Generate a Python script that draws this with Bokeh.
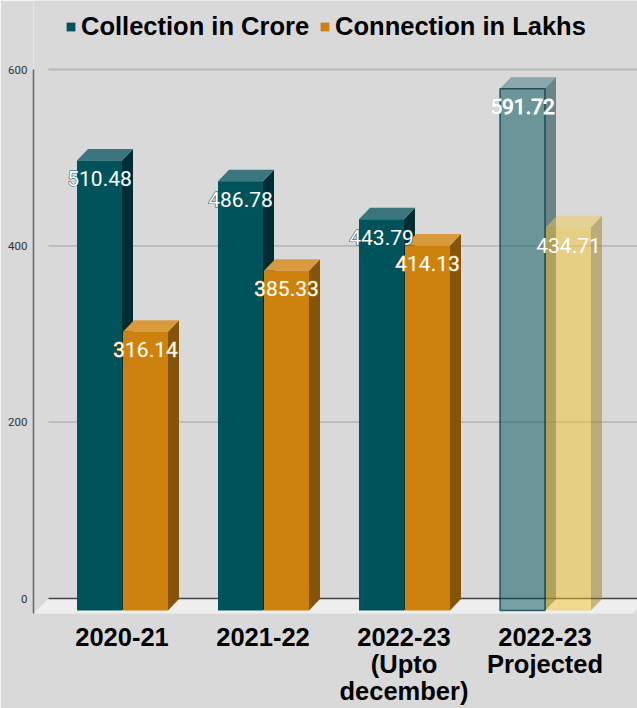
from bokeh.plotting import figure
from bokeh.models import ColumnDataSource, Legend, LegendItem, FixedTicker, Range1d
from bokeh.core.properties import value
from bokeh.embed import file_html
from bokeh.resources import INLINE

categories = ["2020-21", "2021-22", "2022-23\n(Upto\ndecember)", "2022-23\nProjected"]
collection = [510.48, 486.78, 443.79, 591.72]
connection = [316.14, 385.33, 414.13, 434.71]
series_names = ["Collection in Crore", "Connection in Lakhs"]
y_ticks = [0, 200, 400, 600]
face_alpha = [1, 1, 1, 0.5]
BG = "#d9d9d9"
teal = dict(front="#00525b", top="#3b757d", side="#002d35")
orange = dict(front="#cc820c", top="#d99a3c", side="#845408")
yellow = dict(front="#f3c32b", top="#efc955", side="#9d7d1b")

PX_Y = 529 / 600
PX_X = 141.0
bar_w = 45 / PX_X
depth_x = 11 / PX_X
depth_y = 11.5 / PX_Y
base = -12 / PX_Y

p = figure(width=637, height=708, output_backend="svg", toolbar_location=None,
           x_range=Range1d((33 - 122.5) / PX_X, (637 - 122.5) / PX_X),
           y_range=Range1d(-15 / PX_Y, 598 / PX_Y),
           background_fill_color=BG, border_fill_color=BG, outline_line_color=None,
           frame_width=604, frame_height=613,
           min_border_left=33, min_border_right=0, min_border_top=0, min_border_bottom=95)
p.grid.visible = False

xs = p.x_range.start
wall_x = xs + 15 / PX_X
right_x = p.x_range.end + 30 / PX_X
# back-wall grid lines, zero line, floor
p.segment([wall_x] * 3, y_ticks[1:], [right_x] * 3, y_ticks[1:], line_color="#b9b9b9", line_width=1.8)
floor_r = (632 - 122.5) / PX_X
p.patch([xs, wall_x, floor_r + 15 / PX_X, floor_r], [p.y_range.start, 0, 0, p.y_range.start],
        fill_color="#eeeeee", line_color=None)
p.segment([wall_x], [0], [right_x], [0], line_color="#444444", line_width=1.5)


def draw(vals, offs, fills, border=None):
    """One series of pseudo-3D bars: side, top, then front face."""
    left = [i + offs for i in range(len(vals))]
    right = [l + bar_w for l in left]
    top = [v + base for v in vals]
    f_col = [f["front"] for f in fills]
    p.patches([[r, r + depth_x, r + depth_x, r] for r in right],
              [[base, base + depth_y, t + depth_y, t] for t in top],
              fill_color=[f["side"] for f in fills], fill_alpha=face_alpha, line_color=None)
    p.patches([[l, r, r + depth_x, l + depth_x] for l, r in zip(left, right)],
              [[t, t, t + depth_y, t + depth_y] for t in top],
              fill_color=[f["top"] for f in fills], fill_alpha=face_alpha, line_color=None)
    lc = [border if (border and a < 1) else None for a in face_alpha]
    src = ColumnDataSource(dict(l=left, r=right, t=top, b=[base] * len(vals), c=f_col, a=face_alpha, lc=lc))
    return p.quad(left="l", right="r", top="t", bottom="b", source=src, fill_color="c", fill_alpha="a",
                  line_color="lc", line_alpha=0.75, line_width=1.5)


r1 = draw(collection, -46 / PX_X, [teal] * 4, border="#00353b")
r2 = draw(connection, 0 / PX_X, [orange, orange, orange, yellow])


def labels(vals, offs, outlines, under_alpha, top_outlines):
    xc = [i + offs + bar_w / 2 for i in range(len(vals))]
    yc = [v + base - 18 / PX_Y for v in vals]
    txt = [f"{v:.2f}" for v in vals]
    common = dict(text_align="center", text_baseline="middle",
                  text_font=value("Roboto"), text_font_size="21px")
    p.text(xc, yc, text=txt, text_color=outlines, text_outline_color=outlines, text_alpha=under_alpha, **common)
    p.text(xc, yc, text=txt, text_color="#ffffff", text_outline_color=top_outlines, **common)


labels(collection, -46 / PX_X, ["#00525b"] * 3 + ["#3b757d"], [1, 1, 1, 1], [None] * 3 + ["#ffffff"])
labels(connection, 0 / PX_X, ["#e08f0f"] * 4, [1, 1, 1, 0], [None] * 4)

# axes
yaxis = p.yaxis[0]
yaxis.ticker = FixedTicker(ticks=y_ticks)
yaxis.bounds = (p.y_range.start, 600)
yaxis.axis_line_color = "#666666"
yaxis.axis_line_width = 1.5
yaxis.major_tick_line_color = None
yaxis.minor_tick_line_color = None
yaxis.major_tick_in = 0
yaxis.major_tick_out = 0
yaxis.major_label_standoff = 6
yaxis.major_label_text_font = "Roboto"
yaxis.major_label_text_font_size = "11.5px"
yaxis.major_label_text_color = "#333333"

xaxis = p.xaxis[0]
label_ticks = [i - 1 / PX_X for i in range(len(categories))]
xaxis.ticker = FixedTicker(ticks=label_ticks)
xaxis.major_label_overrides = dict(zip(label_ticks, categories))
xaxis.axis_line_color = None
xaxis.major_tick_line_color = None
xaxis.minor_tick_line_color = None
xaxis.major_tick_in = 0
xaxis.major_tick_out = 0
xaxis.major_label_standoff = 9
xaxis.major_label_text_font = "Liberation Sans"
xaxis.major_label_text_font_style = "bold"
xaxis.major_label_text_font_size = "25.5px"
xaxis.major_label_text_color = "#000000"
xaxis.major_label_text_line_height = 0.98

legend = Legend(items=[LegendItem(label=series_names[0], renderers=[r1], index=0),
                       LegendItem(label=series_names[1], renderers=[r2], index=0)],
                orientation="horizontal", location=(32, 572), padding=0, margin=0, spacing=10,
                glyph_width=11, glyph_height=11, label_standoff=5,
                background_fill_alpha=0, border_line_color=None,
                label_text_font="Liberation Sans", label_text_font_style="bold",
                label_text_font_size="25.5px", label_text_color="#000000")
p.add_layout(legend)

open("out.html", "w").write(file_html(p, INLINE))
